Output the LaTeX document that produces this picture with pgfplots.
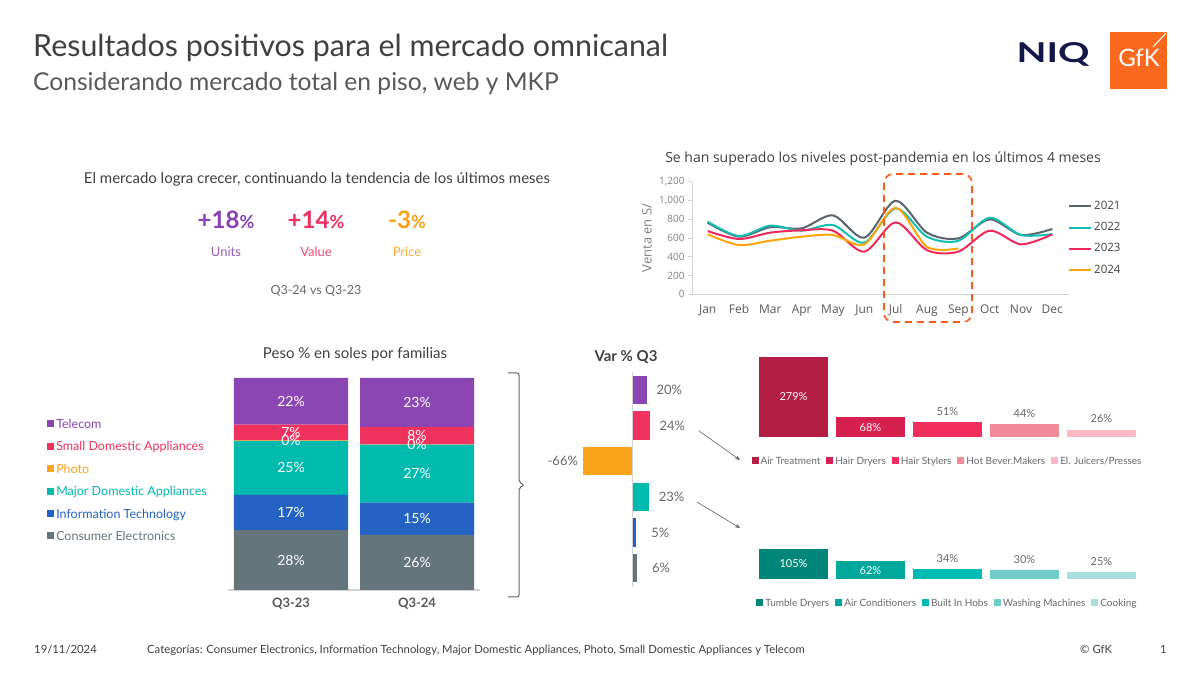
\documentclass[border=0pt]{standalone}
\usepackage{pgfplots}
\pgfplotsset{compat=1.18}
\usepackage{pgfplotstable}
\usepackage{fontspec}
\usepackage{graphicx}
\setmainfont{Lato}
\newfontfamily\osfont{Open Sans}
\usetikzlibrary{arrows.meta}

\definecolor{cTel}{RGB}{140,70,180}
\definecolor{cSDA}{RGB}{240,50,94}
\definecolor{cPho}{RGB}{250,165,25}
\definecolor{cMDA}{RGB}{0,186,174}
\definecolor{cIT}{RGB}{36,99,196}
\definecolor{cCE}{RGB}{102,116,124}
\definecolor{l21}{RGB}{90,100,110}
\definecolor{l22}{RGB}{16,190,178}
\definecolor{l23}{RGB}{240,40,92}
\definecolor{l24}{RGB}{255,165,10}
\definecolor{txt}{RGB}{64,64,64}
\definecolor{sub}{RGB}{89,89,89}
\definecolor{lgray}{RGB}{128,128,128}
\definecolor{vgray}{RGB}{105,105,105}
\definecolor{axg}{RGB}{210,210,210}
\definecolor{brg}{RGB}{90,100,110}
\definecolor{s1}{RGB}{180,30,68}
\definecolor{s2}{RGB}{214,32,80}
\definecolor{s3}{RGB}{240,45,92}
\definecolor{s4}{RGB}{243,138,152}
\definecolor{s5}{RGB}{249,186,195}
\definecolor{m1}{RGB}{0,135,122}
\definecolor{m2}{RGB}{0,168,156}
\definecolor{m3}{RGB}{0,187,180}
\definecolor{m4}{RGB}{110,205,198}
\definecolor{m5}{RGB}{168,223,220}
\definecolor{gfk}{RGB}{250,105,30}
\definecolor{niq}{RGB}{20,24,72}
\definecolor{dashc}{RGB}{255,90,30}
\definecolor{kTel}{RGB}{138,63,180}
\definecolor{kSDA}{RGB}{240,45,95}
\definecolor{kPho}{RGB}{250,160,20}

\pgfplotsset{sqleg/.style={legend image code/.code={\fill[##1] (0pt,-2.8pt) rectangle (7pt,4.2pt);}}}

\pgfplotstableread{
m a21 a22 a23
1 763 774 674
2 614 621 589
3 715 731 657
4 703 678 682
5 841 738 678
6 603 550 454
7 997 916 767
8 657 614 470
9 596 570 455
10 799 816 678
11 632 632 532
12 696 642 639
}\tabLines
\pgfplotstableread{
m a24
1 639
2 525
3 571
4 614
5 632
6 532
7 923
8 505
9 488
}\tabLinesB
\pgfplotstableread{
x ce it mda ph sda tel
1 28.3 16.6 25.4 0.3 7.4 22.0
2 26.0 15.2 27.4 0.1 8.3 23.0
}\tabFam

\begin{document}
\begin{tikzpicture}
\path[use as bounding box, fill=white] (0pt,0pt) rectangle (1200pt,675pt);

% ---------- titles
\node[anchor=base west, text=txt, font=\fontsize{30.4}{36}\selectfont, inner sep=0pt] at (33pt,618pt) {Resultados positivos para el mercado omnicanal};
\node[anchor=base west, text=sub, font=\fontsize{24.6}{29}\selectfont, inner sep=0pt] at (33pt,584pt) {Considerando mercado total en piso, web y MKP};

% ---------- logos
\node[anchor=base, inner sep=0pt, text=niq] at (1053pt,612pt) {\resizebox{73pt}{20pt}{\bfseries NIQ}};
\fill[gfk] (1110pt,586pt) rectangle (1167pt,643pt);
\node[anchor=base, inner sep=0pt, text=white, font=\fontsize{24}{28}\selectfont] at (1139pt,608pt) {GfK};
\draw[white, line width=1pt] (1166pt,642pt) -- (1153pt,628pt);

% ---------- KPIs
\node[anchor=base, text=txt, font=\fontsize{15}{18}\selectfont, inner sep=0pt] at (317pt,491pt) {El mercado logra crecer, continuando la tendencia de los últimos meses};
\node[anchor=base, text=kTel, font=\bfseries\fontsize{24}{28}\selectfont, inner sep=0pt] at (226pt,446pt) {+18{\fontsize{18}{20}\selectfont\%}};
\node[anchor=base, text=kSDA, font=\bfseries\fontsize{24}{28}\selectfont, inner sep=0pt] at (316pt,446pt) {+14{\fontsize{18}{20}\selectfont\%}};
\node[anchor=base, text=kPho, font=\bfseries\fontsize{24}{28}\selectfont, inner sep=0pt] at (407pt,446pt) {-3{\fontsize{18}{20}\selectfont\%}};
\node[anchor=base, text=kTel!85!white, font=\fontsize{13}{15}\selectfont, inner sep=0pt] at (226pt,418pt) {Units};
\node[anchor=base, text=kSDA!85!white, font=\fontsize{13}{15}\selectfont, inner sep=0pt] at (316pt,418pt) {Value};
\node[anchor=base, text=kPho!85!white, font=\fontsize{13}{15}\selectfont, inner sep=0pt] at (407pt,418pt) {Price};
\node[anchor=base, text=vgray, font=\fontsize{12.5}{15}\selectfont, inner sep=0pt] at (316pt,380pt) {Q3-24 vs Q3-23};

% ---------- line chart
\node[anchor=base, text=txt, font=\osfont\fontsize{14}{17}\selectfont, inner sep=0pt] at (883pt,512pt) {Se han superado los niveles post-pandemia en los últimos 4 meses};
\begin{axis}[at={(692pt,380.7pt)}, anchor=south west, scale only axis,
  width=376pt, height=112.6pt,
  xmin=0.5, xmax=12.5, ymin=0, ymax=1200,
  axis lines=left, axis line style={-, draw=axg, line width=0.8pt},
  xtick={1,...,12}, xticklabels={Jan,Feb,Mar,Apr,May,Jun,Jul,Aug,Sep,Oct,Nov,Dec},
  ytick={0,200,...,1200},
  xtick style={draw=none}, ytick style={draw=axg, line width=0.8pt},
  tick align=outside, major tick length=4pt,
  xticklabel style={font=\osfont\fontsize{12}{14}\selectfont, text=sub, yshift=-3pt},
  yticklabel style={font=\osfont\fontsize{10}{12}\selectfont, text=lgray,
     /pgf/number format/1000 sep={,}, /pgf/number format/assume math mode=true},
  ylabel={Venta en S/},
  ylabel style={font=\osfont\fontsize{13}{15}\selectfont, text=lgray, at={(axis description cs:-0.12,0.5)}, anchor=center},
  legend style={at={(axis description cs:1,0.843)}, anchor=north west, draw=none, fill=none,
     inner sep=0pt, row sep=7.2pt, font=\osfont\fontsize{11.5}{13}\selectfont, text=txt},
  legend image code/.code={\draw[#1] (0pt,0pt) -- (22pt,0pt);},
  legend cell align=left,
]
\addplot[l21, line width=2pt, smooth] table[x=m, y=a21] {\tabLines};
\addlegendentry{2021}
\addplot[l22, line width=2pt, smooth] table[x=m, y=a22] {\tabLines};
\addlegendentry{2022}
\addplot[l23, line width=2pt, smooth] table[x=m, y=a23] {\tabLines};
\addlegendentry{2023}
\addplot[l24, line width=2pt, smooth] table[x=m, y=a24] {\tabLinesB};
\addlegendentry{2024}
\end{axis}
\draw[dashc, line width=1.6pt, dash pattern=on 7pt off 5pt, rounded corners=9pt] (884pt,501pt) rectangle (972pt,353pt);

% ---------- stacked families
\node[anchor=base, text=txt, font=\fontsize{15}{18}\selectfont, inner sep=0pt] at (355pt,316pt) {Peso \% en soles por familias};
\begin{axis}[at={(228pt,85pt)}, anchor=south west, scale only axis,
  width=252pt, height=212pt,
  xmin=0.5, xmax=2.5, ymin=0, ymax=100,
  ybar stacked, bar width=114pt,
  axis x line=bottom, axis y line=none, axis line style={-, draw=axg, line width=1.2pt},
  xtick={1,2}, xticklabels={Q3-23,Q3-24}, xtick style={draw=none},
  xticklabel style={font=\bfseries\fontsize{13}{15}\selectfont, text=sub, yshift=-2pt},
  nodes near coords={\pgfmathprintnumber[fixed,precision=0,assume math mode=true]{\pgfplotspointmeta}\%},
  every node near coord/.append style={font=\fontsize{14}{16}\selectfont, text=white, anchor=center},
  legend style={at={(axis description cs:-0.718,0.816)}, anchor=north west, draw=none, fill=none,
     inner sep=0pt, row sep=7.7pt, font=\fontsize{12.5}{14}\selectfont},
  legend cell align=left, reverse legend,
]
\addplot[fill=cCE, draw=none, sqleg, point meta=\thisrow{ce}] table[x=x, y=ce] {\tabFam};
\addlegendentry{\textcolor{cCE}{Consumer Electronics}}
\addplot[fill=cIT, draw=none, sqleg, point meta=\thisrow{it}] table[x=x, y=it] {\tabFam};
\addlegendentry{\textcolor{cIT}{Information Technology}}
\addplot[fill=cMDA, draw=none, sqleg, point meta=\thisrow{mda}] table[x=x, y=mda] {\tabFam};
\addlegendentry{\textcolor{cMDA}{Major Domestic Appliances}}
\addplot[fill=cPho, draw=none, sqleg, point meta=\thisrow{ph}] table[x=x, y=ph] {\tabFam};
\addlegendentry{\textcolor{cPho}{Photo}}
\addplot[fill=cSDA, draw=none, sqleg, point meta=\thisrow{sda}] table[x=x, y=sda] {\tabFam};
\addlegendentry{\textcolor{cSDA}{Small Domestic Appliances}}
\addplot[fill=cTel, draw=none, sqleg, point meta=\thisrow{tel}] table[x=x, y=tel] {\tabFam};
\addlegendentry{\textcolor{cTel}{Telecom}}
\end{axis}

% brace
\draw[brg, line width=1pt, rounded corners=2pt] (508pt,302pt) -- (519pt,302pt) -- (519pt,193pt) -- (524pt,190pt) -- (519pt,187pt) -- (519pt,78pt) -- (508pt,78pt);

% ---------- Var % Q3
\node[anchor=base, text=txt, font=\bfseries\fontsize{15}{18}\selectfont, inner sep=0pt] at (626pt,313pt) {Var \% Q3};
\begin{axis}[at={(579.5pt,89pt)}, anchor=south west, scale only axis,
  width=75pt, height=214pt,
  xmin=-70, xmax=30, ymin=0.5, ymax=6.5, y dir=reverse,
  xbar, bar width=28.5pt, axis lines=none,
  nodes near coords={\pgfmathprintnumber[assume math mode=true]{\pgfplotspointmeta}\%},
  every node near coord/.append style={font=\fontsize{13}{15}\selectfont, text=vgray},
]
\addplot[fill=cTel, draw=none, bar shift=0pt, every node near coord/.append style={anchor=west, xshift=6pt}] coordinates {(20,1)};
\addplot[fill=cSDA, draw=none, bar shift=0pt, every node near coord/.append style={anchor=west, xshift=6pt}] coordinates {(24,2)};
\addplot[fill=cPho, draw=none, bar shift=0pt, every node near coord/.append style={anchor=east, xshift=-1pt}] coordinates {(-66,3)};
\addplot[fill=cMDA, draw=none, bar shift=0pt, every node near coord/.append style={anchor=west, xshift=6pt}] coordinates {(23,4)};
\addplot[fill=cIT, draw=none, bar shift=0pt, every node near coord/.append style={anchor=west, xshift=12pt}] coordinates {(5,5)};
\addplot[fill=cCE, draw=none, bar shift=0pt, every node near coord/.append style={anchor=west, xshift=12pt}] coordinates {(6,6)};
\draw[axg, line width=0.8pt] (axis cs:0,0.45) -- (axis cs:0,6.55);
\end{axis}

% arrows
\draw[brg, line width=0.6pt, -{Stealth[length=5pt,width=4pt]}] (699pt,244pt) -- (740pt,215pt);
\draw[brg, line width=0.6pt, -{Stealth[length=5pt,width=4pt]}] (697pt,173pt) -- (740pt,147pt);

% ---------- SDA subcategories
\begin{axis}[at={(755pt,238pt)}, anchor=south west, scale only axis,
  width=385pt, height=86.1pt,
  xmin=0.5, xmax=5.5, ymin=0, ymax=300,
  ybar, bar width=69pt, axis lines=none,
  nodes near coords={\pgfmathprintnumber[assume math mode=true]{\pgfplotspointmeta}\%},
  every node near coord/.append style={font=\fontsize{11}{13}\selectfont, text=vgray, yshift=3pt},
  legend columns=5,
  legend style={at={(axis description cs:0.5,0)}, anchor=north, yshift=-18pt, draw=none, fill=none,
     inner sep=0pt, font=\fontsize{10}{12}\selectfont, text=vgray,
     /tikz/every even column/.append style={column sep=4pt}},
]
\addplot[fill=s1, draw=none, bar shift=0pt, sqleg, every node near coord/.append style={anchor=center, yshift=-43pt, text=white}] coordinates {(1,279)};
\addlegendentry{Air Treatment}
\addplot[fill=s2, draw=none, bar shift=0pt, sqleg, every node near coord/.append style={anchor=center, yshift=-13pt, text=white}] coordinates {(2,68)};
\addlegendentry{Hair Dryers}
\addplot[fill=s3, draw=none, bar shift=0pt, sqleg] coordinates {(3,51)};
\addlegendentry{Hair Stylers}
\addplot[fill=s4, draw=none, bar shift=0pt, sqleg] coordinates {(4,44)};
\addlegendentry{Hot Bever.Makers}
\addplot[fill=s5, draw=none, bar shift=0pt, sqleg] coordinates {(5,26)};
\addlegendentry{El. Juicers/Presses}
\end{axis}

% ---------- MDA subcategories
\begin{axis}[at={(755pt,96pt)}, anchor=south west, scale only axis,
  width=385pt, height=34.4pt,
  xmin=0.5, xmax=5.5, ymin=0, ymax=120,
  ybar, bar width=69pt, axis lines=none,
  nodes near coords={\pgfmathprintnumber[assume math mode=true]{\pgfplotspointmeta}\%},
  every node near coord/.append style={font=\fontsize{11}{13}\selectfont, text=vgray, yshift=3pt},
  legend columns=5,
  legend style={at={(axis description cs:0.5,0)}, anchor=north, yshift=-18pt, draw=none, fill=none,
     inner sep=0pt, font=\fontsize{10}{12}\selectfont, text=vgray,
     /tikz/every even column/.append style={column sep=4pt}},
]
\addplot[fill=m1, draw=none, bar shift=0pt, sqleg, every node near coord/.append style={anchor=center, yshift=-18pt, text=white}] coordinates {(1,105)};
\addlegendentry{Tumble Dryers}
\addplot[fill=m2, draw=none, bar shift=0pt, sqleg, every node near coord/.append style={anchor=center, yshift=-12pt, text=white}] coordinates {(2,62)};
\addlegendentry{Air Conditioners}
\addplot[fill=m3, draw=none, bar shift=0pt, sqleg] coordinates {(3,34)};
\addlegendentry{Built In Hobs}
\addplot[fill=m4, draw=none, bar shift=0pt, sqleg] coordinates {(4,30)};
\addlegendentry{Washing Machines}
\addplot[fill=m5, draw=none, bar shift=0pt, sqleg] coordinates {(5,25)};
\addlegendentry{Cooking}
\end{axis}

% ---------- footer
\node[anchor=base west, font=\fontsize{11.3}{13}\selectfont, text=txt, inner sep=0pt] at (34pt,21pt) {19/11/2024};
\node[anchor=base west, font=\fontsize{11.3}{13}\selectfont, text=txt, inner sep=0pt] at (147pt,21pt) {Categorías: Consumer Electronics, Information Technology, Major Domestic Appliances, Photo, Small Domestic Appliances y Telecom};
\node[anchor=base west, font=\fontsize{11.3}{13}\selectfont, text=txt, inner sep=0pt] at (1080pt,21pt) {© GfK};
\node[anchor=base west, font=\fontsize{11.3}{13}\selectfont, text=txt, inner sep=0pt] at (1160pt,21pt) {1};
\end{tikzpicture}
\end{document}
